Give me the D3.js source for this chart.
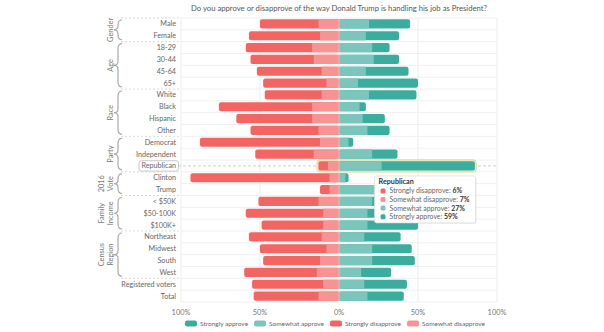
<!DOCTYPE html>
<html>
<head>
<meta charset="utf-8">
<script src="https://cdn.jsdelivr.net/npm/d3@7"></script>
<style>
  body { margin: 0; background: #fff; }
  svg { font-family: Lato, sans-serif; }
</style>
</head>
<body>
<div id="chart"></div>
<script>
// Data (percent)
var categories = ["Male", "Female", "18-29", "30-44", "45-64", "65+", "White", "Black", "Hispanic", "Other",
  "Democrat", "Independent", "Republican", "Clinton", "Trump", "< $50K", "$50-100K", "$100K+",
  "Northeast", "Midwest", "South", "West", "Registered voters", "Total"];
var strongDis = [37, 45, 42, 40, 41, 40, 36, 59, 48, 43, 76, 37, 6, 88, 6, 38, 49, 39, 46, 42, 36, 46, 45, 41];
var someDis   = [13, 12, 17, 16, 11, 8, 11, 17, 17, 13, 12, 16, 7, 6, 6, 13, 10, 10, 11, 8, 12, 14, 10, 13];
var someApp   = [19, 17, 21, 22, 17, 12, 19, 13, 15, 18, 6, 21, 27, 4, 30, 21, 18, 18, 16, 21, 21, 14, 16, 18];
var strongApp = [26, 21, 11, 16, 27, 38, 30, 4, 14, 14, 3, 16, 59, 2, 55, 20, 22, 32, 23, 25, 27, 19, 27, 23];

var groupLabels = [["Gender"], ["Age"], ["Race"], ["Party"], ["2016", "Vote"], ["Family", "Income"], ["Census", "Region"]];
var groupSizes = [2, 4, 4, 3, 2, 3, 4];

var tickValues = [-100, -50, 0, 50, 100];
var seriesNames = ["Strongly approve", "Somewhat approve", "Strongly disapprove", "Somewhat disapprove"];
var highlighted = "Republican";

var colors = {
  "Strongly disapprove": "#f26563",
  "Somewhat disapprove": "#f79392",
  "Somewhat approve": "#7ac6bc",
  "Strongly approve": "#3aad9f"
};

var svgWidth = 604, svgHeight = 332;
var svg = d3.select("#chart").append("svg")
  .attr("width", svgWidth)
  .attr("height", svgHeight);

var x = d3.scaleLinear().domain([-100, 100]).range([181, 497]);
var y = d3.scaleBand().domain(categories).range([18, 302]).paddingInner(0.22).paddingOuter(0.11);
var step = y.step();

// title
svg.append("text")
  .attr("x", 339).attr("y", 11)
  .attr("text-anchor", "middle")
  .style("font-size", "7.7px").style("fill", "#555")
  .text("Do you approve or disapprove of the way Donald Trump is handling his job as President?");

// grid
var grid = svg.append("g");
grid.selectAll("line.v").data(tickValues).enter().append("line")
  .attr("x1", d => x(d)).attr("x2", d => x(d))
  .attr("y1", 18).attr("y2", 302)
  .attr("stroke", "#ececec").attr("stroke-width", 1);
var bounds = d3.range(categories.length + 1).map(i => 18 + i * step);
grid.selectAll("line.h").data(bounds).enter().append("line")
  .attr("x1", 181).attr("x2", 497)
  .attr("y1", d => d).attr("y2", d => d)
  .attr("stroke", "#f0f0f0").attr("stroke-width", 1);

// highlighted row dashed guide
var hi = categories.indexOf(highlighted);
var hiY = y(highlighted) + y.bandwidth() / 2;
svg.append("line")
  .attr("x1", 178).attr("x2", 497)
  .attr("y1", hiY).attr("y2", hiY)
  .attr("stroke", "#cfcfcf").attr("stroke-dasharray", "3,2");

// bars
var rows = categories.map(function(c, i) {
  return { cat: c, sd: strongDis[i], wd: someDis[i], wa: someApp[i], sa: strongApp[i] };
});
var bh = y.bandwidth();
var barG = svg.append("g").selectAll("g").data(rows).enter().append("g")
  .attr("transform", d => `translate(0, ${y(d.cat)})`);

// outline for highlighted bar
barG.filter(d => d.cat === highlighted).append("rect")
  .attr("x", d => x(-(d.sd + d.wd)) - 1.5)
  .attr("y", -1.5)
  .attr("width", d => x(d.wa + d.sa) - x(-(d.sd + d.wd)) + 3)
  .attr("height", bh + 3)
  .attr("rx", 3)
  .attr("fill", "#ecebc4")
  .attr("stroke", "#dedba3").attr("stroke-width", 1);

barG.append("rect")
  .attr("x", d => x(-(d.sd + d.wd)))
  .attr("width", d => x(0) - x(-(d.sd + d.wd)))
  .attr("height", bh).attr("rx", 2)
  .attr("fill", colors["Strongly disapprove"]);
barG.append("rect")
  .attr("x", d => x(-d.wd))
  .attr("width", d => x(0) - x(-d.wd))
  .attr("height", bh)
  .attr("fill", colors["Somewhat disapprove"]);
barG.append("rect")
  .attr("x", x(0))
  .attr("width", d => x(d.wa + d.sa) - x(0))
  .attr("height", bh).attr("rx", 2)
  .attr("fill", colors["Strongly approve"]);
barG.append("rect")
  .attr("x", x(0))
  .attr("width", d => x(d.wa) - x(0))
  .attr("height", bh)
  .attr("fill", colors["Somewhat approve"]);
barG.append("line")
  .attr("x1", x(0)).attr("x2", x(0))
  .attr("y1", 0).attr("y2", bh)
  .attr("stroke", "#fff").attr("stroke-opacity", 0.5).attr("stroke-width", 0.6);

// category labels
var labG = svg.append("g");
labG.selectAll("text").data(categories).enter().append("text")
  .attr("x", 176)
  .attr("y", d => y(d) + bh / 2)
  .attr("dy", "0.35em")
  .attr("text-anchor", "end")
  .style("font-size", "7.2px").style("fill", "#666")
  .text(d => d);
// box around highlighted label
var hiText = labG.selectAll("text").filter(d => d === highlighted).node().getBBox();
labG.insert("rect", "text")
  .attr("x", hiText.x - 2.5).attr("y", hiY - 5.2)
  .attr("width", hiText.width + 5).attr("height", 10.4)
  .attr("rx", 2.5)
  .attr("fill", "#fff").attr("stroke", "#bbb").attr("stroke-width", 0.8);

// group braces and labels
var gG = svg.append("g");
var start = 0;
groupSizes.forEach(function(n, gi) {
  var y0 = 18 + start * step, y1 = 18 + (start + n) * step;
  var ym = (y0 + y1) / 2;
  var a = y0 + 2, b = y1 - 2;
  gG.append("line")
    .attr("x1", 121).attr("x2", 180).attr("y1", y0).attr("y2", y0)
    .attr("stroke", "#cfcfcf").attr("stroke-dasharray", "2,2").attr("stroke-width", 0.8);
  if (gi === groupSizes.length - 1) {
    gG.append("line")
      .attr("x1", 121).attr("x2", 180).attr("y1", y1).attr("y2", y1)
      .attr("stroke", "#cfcfcf").attr("stroke-dasharray", "2,2").attr("stroke-width", 0.8);
  }
  var p = `M122,${a} Q118,${a} 118,${a + 5} L118,${ym - 4} Q118,${ym} 114,${ym} Q118,${ym} 118,${ym + 4} L118,${b - 5} Q118,${b} 122,${b}`;
  gG.append("path").attr("d", p)
    .attr("fill", "none").attr("stroke", "#aaa").attr("stroke-width", 1.2);
  var lines = groupLabels[gi];
  lines.forEach(function(t, li) {
    var lx = 110 - (lines.length - 1 - li) * 8.3;
    gG.append("text")
      .attr("transform", `translate(${lx}, ${ym}) rotate(-90)`)
      .attr("text-anchor", "middle")
      .attr("dy", "0.35em")
      .style("font-size", "7.4px").style("fill", "#777")
      .text(t);
  });
  start += n;
});

// x axis labels
svg.append("g").selectAll("text").data(tickValues).enter().append("text")
  .attr("x", d => x(d)).attr("y", 314.5)
  .attr("text-anchor", "middle")
  .style("font-size", "7.4px").style("fill", "#777")
  .text(d => Math.abs(d) + "%");

// legend
var legend = svg.append("g");
var lx = 185;
seriesNames.forEach(function(s) {
  legend.append("rect")
    .attr("x", lx).attr("y", 320.5).attr("width", 12).attr("height", 6).attr("rx", 2)
    .attr("fill", colors[s]);
  var t = legend.append("text")
    .attr("x", lx + 15).attr("y", 323.5).attr("dy", "0.35em")
    .style("font-size", "6.5px").style("fill", "#666")
    .text(s);
  lx += 15 + t.node().getComputedTextLength() + 6;
});

// tooltip for highlighted row
var tipX = x(22.5), tipY = hiY + 10;
var tip = svg.append("g").attr("transform", `translate(${tipX}, ${tipY})`);
var tipH = 47;
var shadow = tip.append("rect")
  .attr("x", 1).attr("y", 1).attr("height", tipH).attr("rx", 2)
  .attr("fill", "#000").attr("opacity", 0.06);
var box = tip.append("rect")
  .attr("height", tipH).attr("rx", 2)
  .attr("fill", "#fff").attr("stroke", "#ddd").attr("stroke-width", 0.8);
tip.append("text")
  .attr("x", 4).attr("y", 6).attr("dy", "0.35em")
  .style("font-size", "7.2px").style("font-weight", "bold").style("fill", "#333")
  .text(highlighted);
var tipItems = [
  ["Strongly disapprove", strongDis[hi]],
  ["Somewhat disapprove", someDis[hi]],
  ["Somewhat approve", someApp[hi]],
  ["Strongly approve", strongApp[hi]]
];
var maxW = 0;
tipItems.forEach(function(it, i) {
  var ty = 15 + i * 8.6;
  tip.append("rect")
    .attr("x", 6).attr("y", ty - 2.5).attr("width", 5).attr("height", 5).attr("rx", 1.5)
    .attr("fill", colors[it[0]]);
  var t = tip.append("text")
    .attr("x", 15).attr("y", ty).attr("dy", "0.35em")
    .style("font-size", "6.9px").style("fill", "#666");
  t.append("tspan").text(it[0] + ": ");
  t.append("tspan").style("font-weight", "bold").style("fill", "#333").text(it[1] + "%");
  maxW = Math.max(maxW, t.node().getComputedTextLength());
});
var tipW = Math.max(101, 15 + maxW + 6);
box.attr("width", tipW);
shadow.attr("width", tipW);
</script>
</body>
</html>
